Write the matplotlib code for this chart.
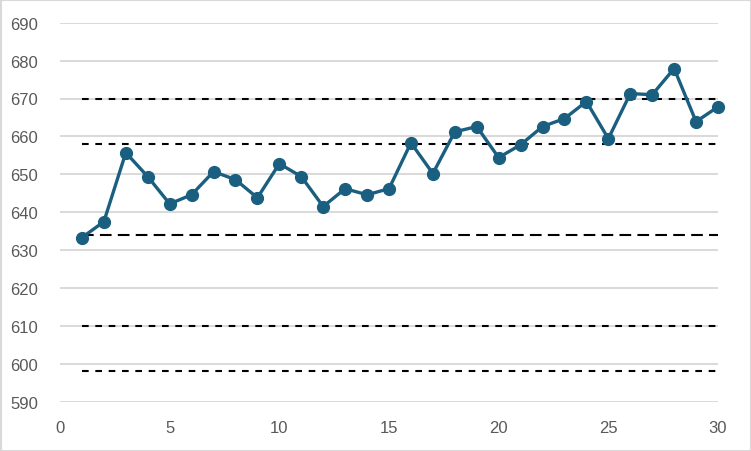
import matplotlib
matplotlib.use("Agg")
import matplotlib.pyplot as plt
from matplotlib.patches import Rectangle

x = list(range(1, 31))
values = [633.3, 637.5, 655.7, 649.4, 642.2, 644.6, 650.7, 648.6, 643.8, 652.8,
          649.4, 641.5, 646.2, 644.6, 646.2, 658.3, 650.2, 661.2, 662.6, 654.4,
          657.8, 662.6, 664.7, 669.2, 659.4, 671.3, 671.0, 677.9, 663.9, 667.8]
center = 634
inner_limits = [658, 610]
outer_limits = [670, 598]
xticks = [0, 5, 10, 15, 20, 25, 30]
yticks = list(range(590, 691, 10))

plt.rcParams['font.family'] = ['Liberation Sans', 'DejaVu Sans']

fig = plt.figure(figsize=(7.51, 4.52), dpi=100)
ax = fig.add_axes([60/751, 1-402.7/452, 658/751, 379/452])

grid_c = '#D9D9D9'
for yv in yticks:
    ax.axhline(yv, color=grid_c, lw=1.4, zorder=0)

line_x = [x[0], x[-1]]
for yv in outer_limits + inner_limits:
    ax.plot(line_x, [yv, yv], color='black', lw=1.5, dashes=(3.2, 3.2), zorder=2)
ax.plot(line_x, [center, center], color='black', lw=1.5, dashes=(5.6, 3.0), zorder=2)

ax.plot(x, values, color='#1B5F80', lw=2.4, marker='o', markersize=8.5,
        markerfacecolor='#1B5F80', markeredgecolor='#1B5F80', zorder=3, clip_on=False)

ax.set_xlim(0, 30)
ax.set_ylim(590, 690)
ax.set_xticks(xticks)
ax.set_yticks(yticks)
for s in ax.spines.values():
    s.set_visible(False)
ax.tick_params(axis='both', length=0, labelsize=12, colors='#595959')
ax.tick_params(axis='x', pad=13)
ax.tick_params(axis='y', pad=16)

fig.patches.append(Rectangle((0.5/751, 0.5/452), 1-1/751, 1-1/452, transform=fig.transFigure,
                             fill=False, edgecolor='#D9D9D9', lw=1.5))

fig.savefig('out.png', dpi=100)
